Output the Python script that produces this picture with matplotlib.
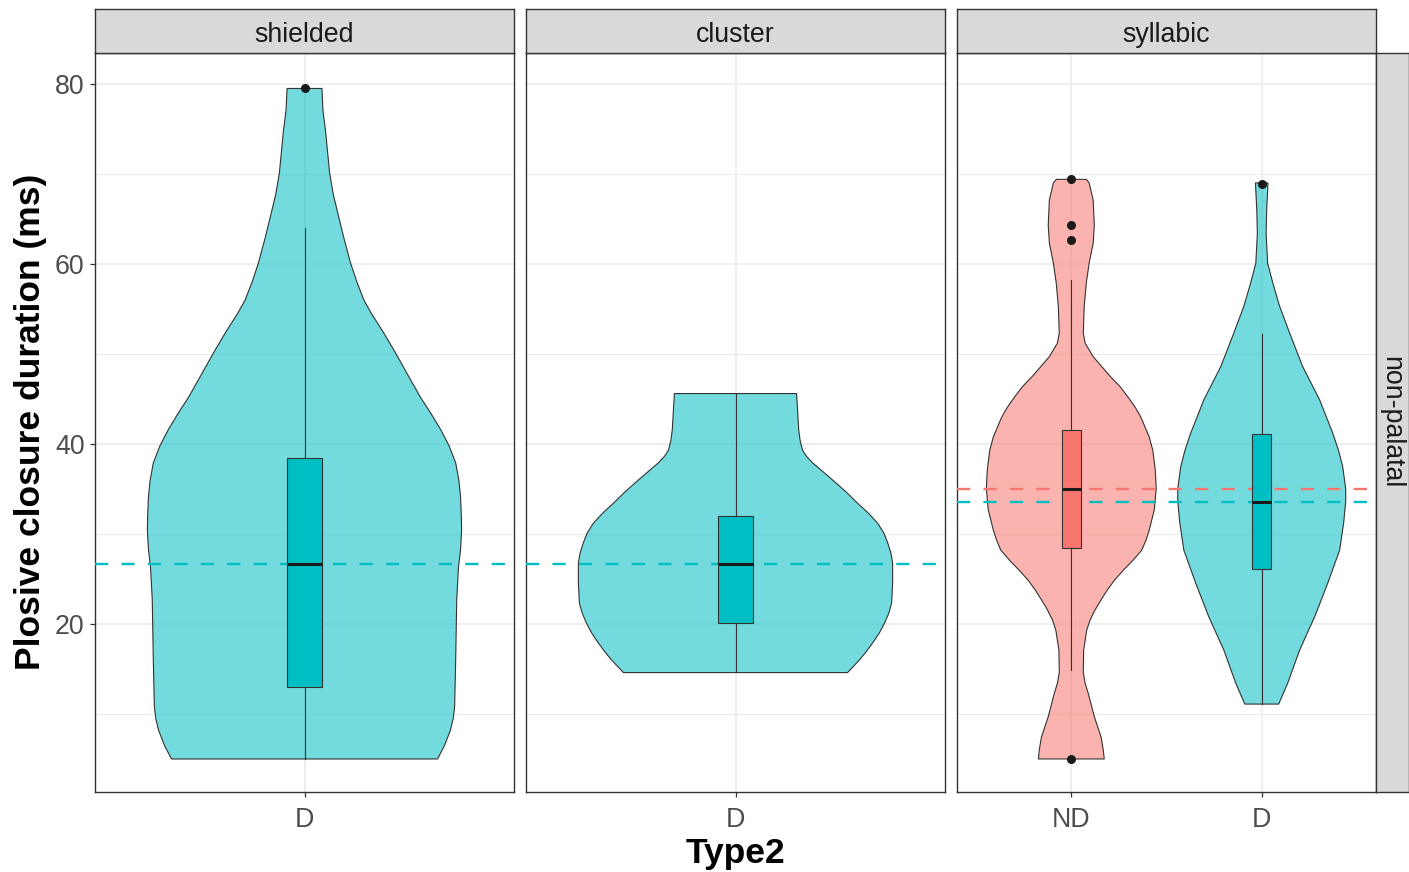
import matplotlib.pyplot as plt

plt.rcParams['font.family'] = ['Liberation Sans', 'DejaVu Sans']

facets = ["shielded", "cluster", "syllabic"]
row_label = "non-palatal"
ylabel = "Plosive closure duration (ms)"
xlabel = "Type2"

col_nd = "#F8766D"
col_d = "#00BFC4"

# violin outlines: y level and half-width (x units)
shielded_y = [79.5, 77, 74.9, 72.5, 70.1, 67.8, 65.7, 63.0, 60.1, 58.0, 56, 54.6, 52.4,
              50.1, 47.6, 45.2, 43.4, 41.6, 39.8, 37.9, 36.0, 34.1, 32.2, 30.4, 28.3,
              26.3, 22.7, 16, 10.8, 9.5, 8.2, 6.5, 5.0]
shielded_hw = [0.050, 0.053, 0.060, 0.066, 0.072, 0.082, 0.095, 0.112, 0.132, 0.150,
               0.170, 0.190, 0.226, 0.261, 0.297, 0.332, 0.362, 0.390, 0.414, 0.433,
               0.442, 0.447, 0.449, 0.450, 0.447, 0.441, 0.436, 0.433, 0.430, 0.426,
               0.418, 0.401, 0.381]

cluster_y = [45.6, 41.6, 40.4, 39.3, 38.6, 37.9, 37.0, 36.0, 34.7, 33.4, 32.3, 31.2,
             30.1, 29.0, 27.9, 26.8, 24.5, 22.3, 21.2, 20.1, 19.0, 17.9, 16.9, 16.0, 14.6]
cluster_hw = [0.175, 0.181, 0.185, 0.192, 0.204, 0.221, 0.248, 0.278, 0.316, 0.350,
              0.381, 0.407, 0.425, 0.436, 0.445, 0.450, 0.450, 0.447, 0.439, 0.427,
              0.412, 0.393, 0.374, 0.355, 0.321]

syll_nd_y = [69.4, 69.0, 67.1, 64.3, 62.3, 60.1, 57.9, 55.3, 52.3, 51.2, 49.7, 48.6,
             47.5, 46.4, 45.3, 44.1, 43.0, 40.8, 39.3, 37.1, 35.0, 32.7, 30.4, 29.3,
             28.2, 27.1, 26.0, 24.9, 23.8, 22.7, 21.6, 20.4, 19.3, 17.1, 14.6, 13.4,
             12.3, 9.7, 7.4, 6.0, 5.0]
syll_nd_hw = [0.079, 0.094, 0.115, 0.121, 0.115, 0.094, 0.079, 0.068, 0.063, 0.073,
              0.115, 0.160, 0.205, 0.255, 0.295, 0.335, 0.365, 0.409, 0.428, 0.441,
              0.446, 0.436, 0.409, 0.392, 0.370, 0.325, 0.275, 0.228, 0.190, 0.157,
              0.126, 0.098, 0.081, 0.065, 0.063, 0.073, 0.089, 0.121, 0.157, 0.168,
              0.173]

syll_d_y = [69.0, 66.0, 63.4, 60.1, 57.9, 55.3, 52.3, 48.6, 44.9, 41.2, 39.3, 37.5,
            35.0, 33.6, 31.2, 28.2, 24.5, 20.8, 17.1, 13.4, 11.1]
syll_d_hw = [0.033, 0.026, 0.023, 0.031, 0.058, 0.094, 0.147, 0.215, 0.304, 0.373,
             0.403, 0.425, 0.441, 0.441, 0.430, 0.409, 0.346, 0.278, 0.199, 0.136, 0.089]

# box stats: q1, median, q3, lower whisker, upper whisker, outliers
shielded_box = [13.0, 26.7, 38.4, 5.0, 64.0]
shielded_out = [79.5]
cluster_box = [20.1, 26.7, 32.0, 14.7, 45.6]
cluster_out = []
syll_nd_box = [28.4, 35.0, 41.6, 14.9, 58.2]
syll_nd_out = [69.4, 64.3, 62.7, 5.0]
syll_d_box = [26.1, 33.6, 41.1, 11.1, 52.2]
syll_d_out = [68.9]

panels = [
    (["D"], [(shielded_y, shielded_hw, shielded_box, shielded_out, col_d)]),
    (["D"], [(cluster_y, cluster_hw, cluster_box, cluster_out, col_d)]),
    (["ND", "D"], [(syll_nd_y, syll_nd_hw, syll_nd_box, syll_nd_out, col_nd),
                   (syll_d_y, syll_d_hw, syll_d_box, syll_d_out, col_d)]),
]

W, H = 1409, 872
fig = plt.figure(figsize=(W / 100, H / 100), dpi=100)

px_left = [95, 526, 957]
pw = 419
top, bottom = 53, 792
strip_top = 9
fs = 19.3

for i, (labels, groups) in enumerate(panels):
    ax = fig.add_axes([px_left[i] / W, 1 - bottom / H, pw / W, (bottom - top) / H])
    n = len(labels)
    pos = list(range(1, n + 1))
    ax.set_xlim(0.4, n + 0.6)
    ax.set_ylim(1.33, 83.44)
    ax.set_yticks([20, 40, 60, 80])
    ax.set_yticks([10, 30, 50, 70], minor=True)
    ax.set_xticks(pos)
    ax.set_xticklabels(labels, fontsize=fs, color="#4d4d4d")
    ax.grid(True, which="major", color="#ebebeb", lw=1.1)
    ax.grid(True, which="minor", axis="y", color="#ebebeb", lw=0.7)
    ax.set_axisbelow(True)
    for s in ax.spines.values():
        s.set_color("#333333")
        s.set_linewidth(1.0)
    ax.tick_params(which="major", length=3.5, color="#333333", width=0.9)
    ax.tick_params(axis="x", pad=7)
    ax.tick_params(axis="y", pad=4)
    ax.tick_params(which="minor", length=0)
    if i == 0:
        ax.tick_params(axis="y", labelsize=fs, labelcolor="#4d4d4d")
    else:
        ax.tick_params(axis="y", length=0, labelleft=False)

    for p, (vy, vhw, box, out, col) in zip(pos, groups):
        ax.fill_betweenx(vy, [p - h for h in vhw], [p + h for h in vhw],
                         facecolor=col, alpha=0.55, edgecolor="none", zorder=2)
        ax.fill_betweenx(vy, [p - h for h in vhw], [p + h for h in vhw],
                         facecolor="none", edgecolor="#333333", lw=0.8, zorder=2.1)
    for p, (vy, vhw, box, out, col) in zip(pos, groups):
        ax.axhline(box[1], color=col, lw=1.7, dashes=(5.6, 5.6), zorder=3)
    for p, (vy, vhw, box, out, col) in zip(pos, groups):
        stats = [dict(q1=box[0], med=box[1], q3=box[2], whislo=box[3], whishi=box[4],
                      fliers=out)]
        ax.bxp(stats, positions=[p], widths=0.1, patch_artist=True, showcaps=False,
               manage_ticks=False, zorder=4,
               boxprops=dict(facecolor=col, edgecolor="#333333", lw=0.8),
               medianprops=dict(color="#1a1a1a", lw=2.2),
               whiskerprops=dict(color="#333333", lw=0.8),
               flierprops=dict(marker="o", markerfacecolor="#1a1a1a",
                               markeredgecolor="#1a1a1a", markersize=5.5))

    # facet strip
    sax = fig.add_axes([px_left[i] / W, 1 - top / H, pw / W, (top - strip_top) / H])
    sax.set_facecolor("#d9d9d9")
    sax.set_xticks([])
    sax.set_yticks([])
    for s in sax.spines.values():
        s.set_color("#333333")
        s.set_linewidth(1.0)
    sax.text(0.5, 0.42, facets[i], ha="center", va="center", fontsize=fs,
             color="#1a1a1a", transform=sax.transAxes)

rax = fig.add_axes([1376 / W, 1 - bottom / H, 33 / W, (bottom - top) / H])
rax.set_facecolor("#d9d9d9")
rax.set_xticks([])
rax.set_yticks([])
for s in rax.spines.values():
    s.set_color("#333333")
    s.set_linewidth(1.0)
rax.text(0.45, 0.5, row_label, ha="center", va="center", rotation=270, fontsize=fs,
         color="#1a1a1a", transform=rax.transAxes)

fig.text(735.5 / W, 1 - 853 / H, xlabel, ha="center", va="center", fontsize=25.5,
         fontweight="bold", color="black")
fig.text(31 / W, 1 - 422 / H, ylabel, ha="center", va="center", rotation=90,
         fontsize=25.5, fontweight="bold", color="black")

fig.savefig("out.png", dpi=100)
